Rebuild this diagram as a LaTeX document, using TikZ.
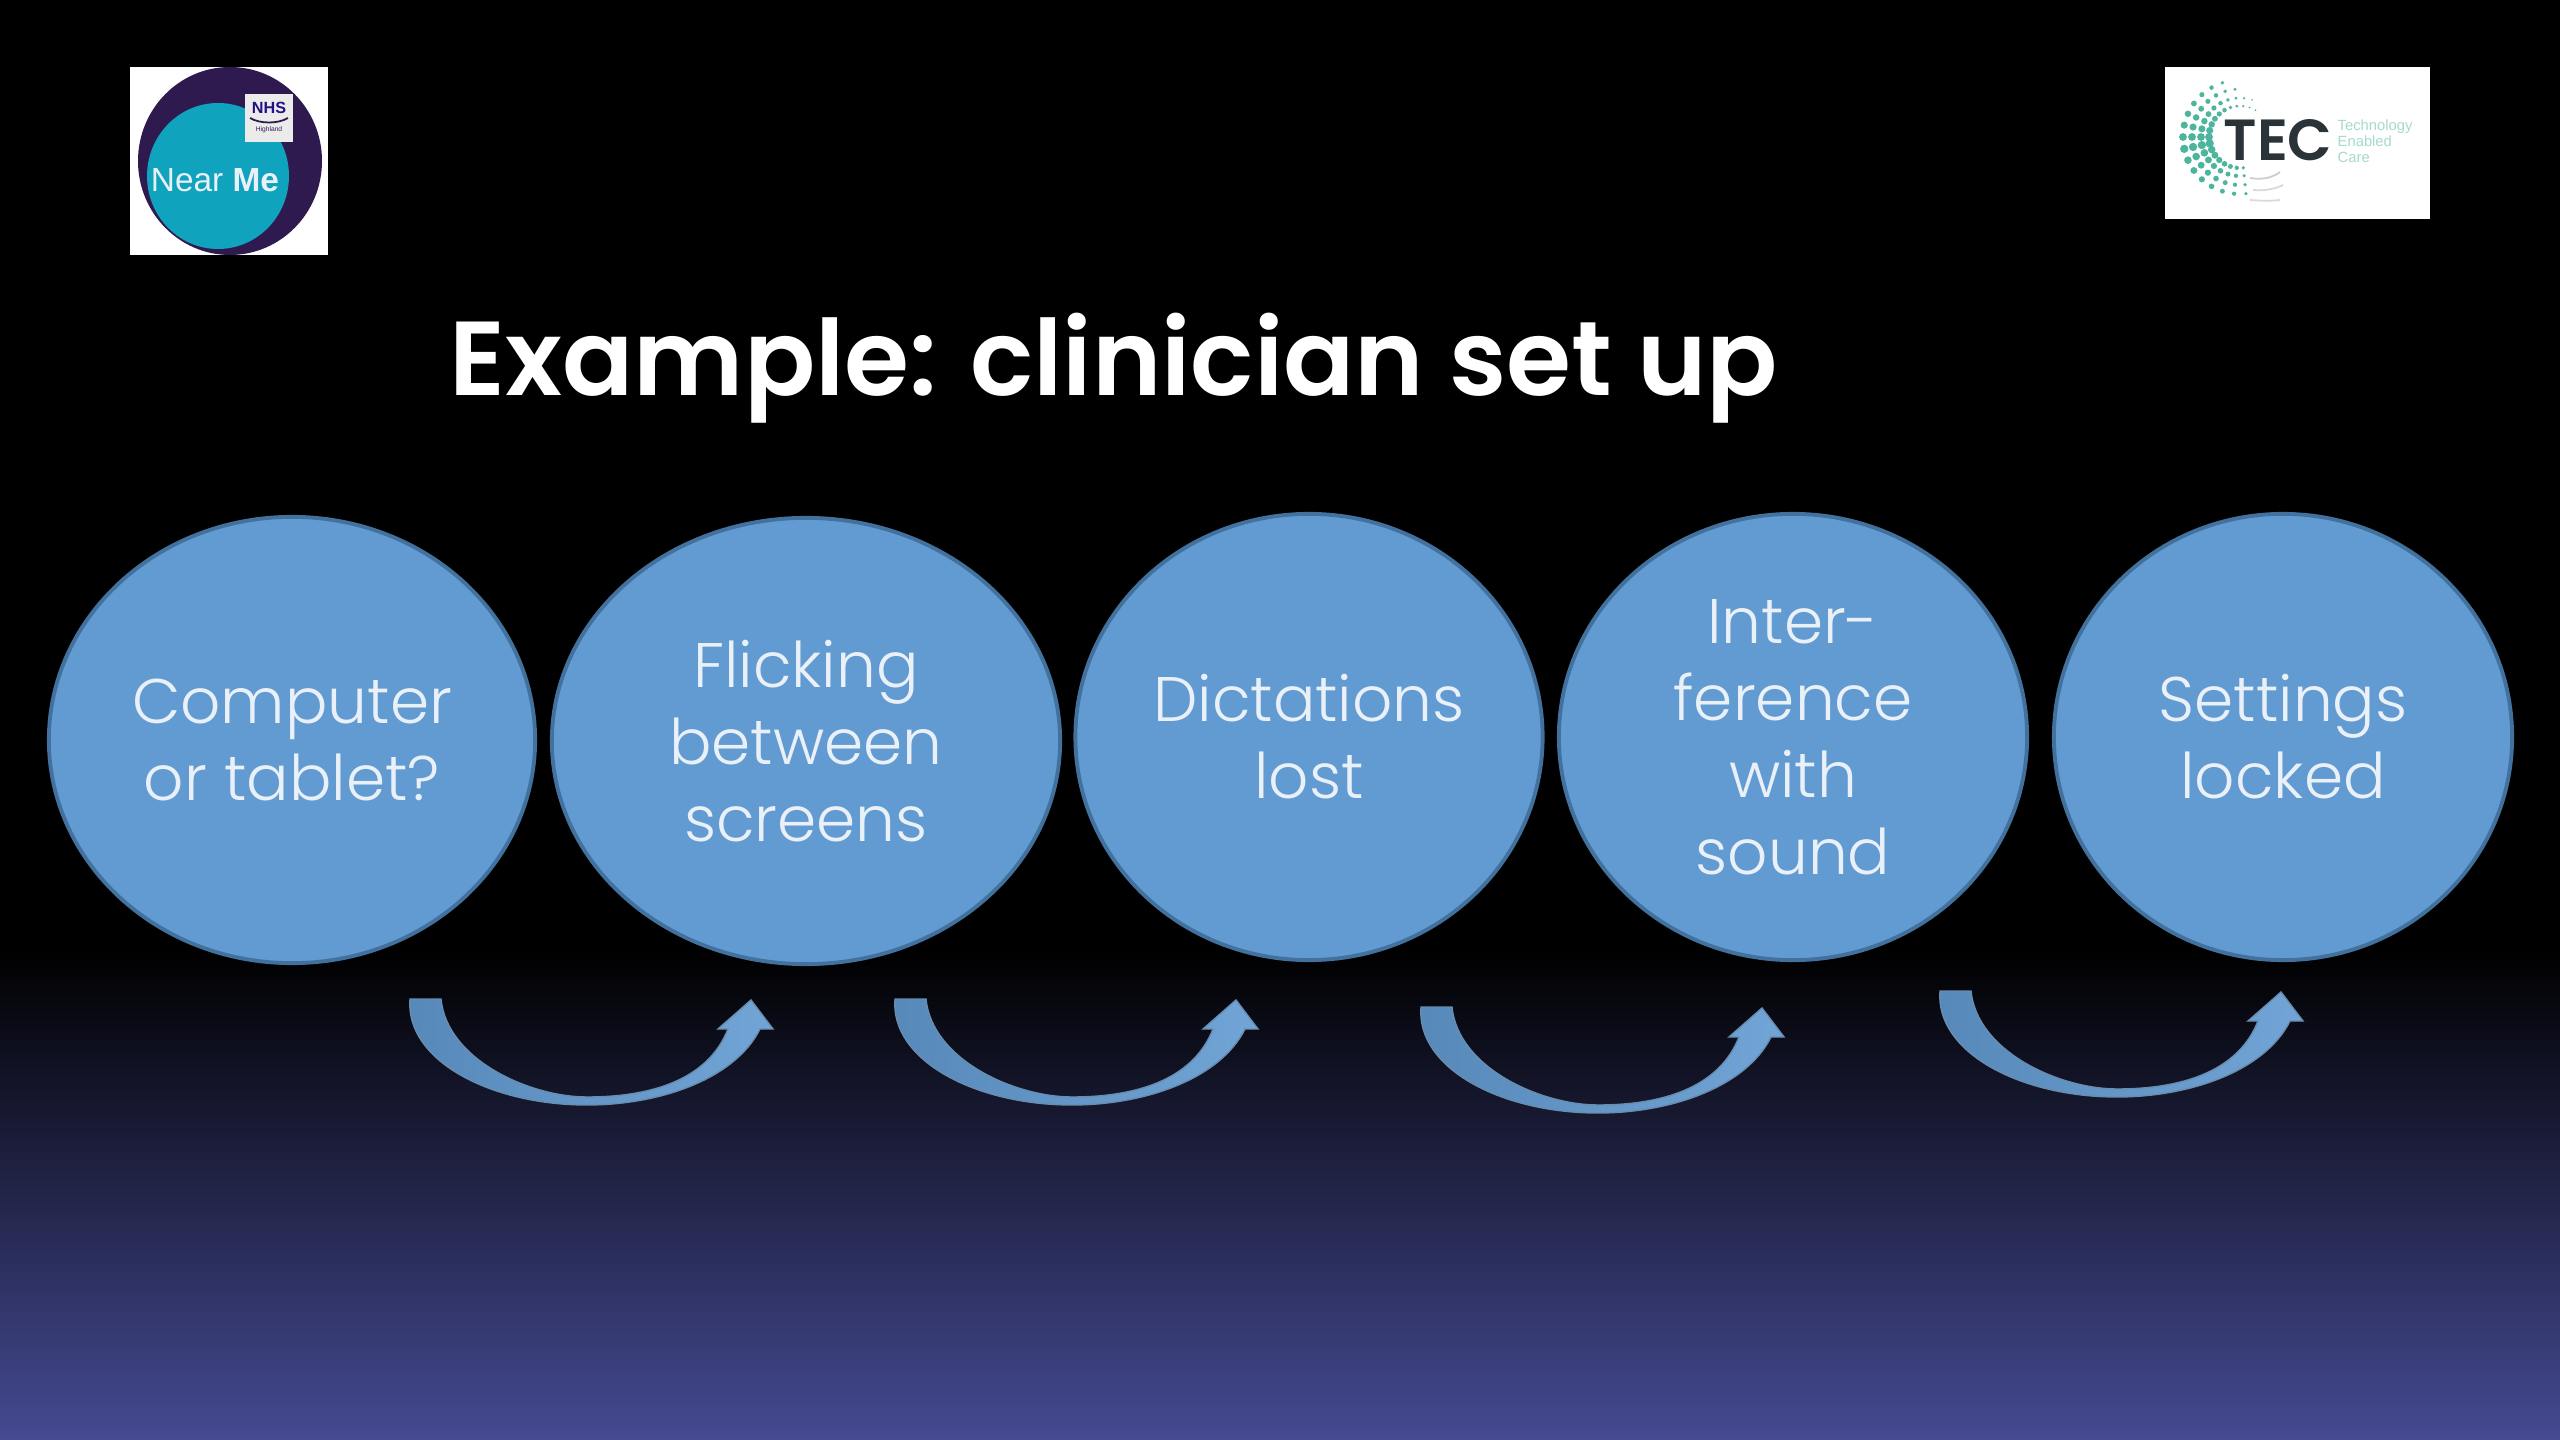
\documentclass[tikz,border=0pt]{standalone}
\usepackage{fontspec}
\usepackage{xcolor}
\usepackage{tikz}
\setmainfont{Poppins}
\newfontfamily\lightfont{Poppins Light}
\newfontfamily\titlefont{Poppins SemiBold}
\newfontfamily\logofont{Liberation Sans}
\usetikzlibrary{shapes.geometric, positioning}
\definecolor{bubble}{HTML}{629BD2}
\definecolor{bubbleline}{HTML}{41719C}
\definecolor{bgblue}{HTML}{454A92}
\definecolor{paletext}{HTML}{EAF0F7}
\definecolor{nhsnavy}{HTML}{2F1A4F}
\definecolor{nearteal}{HTML}{0FA3BD}
\definecolor{tecgreen}{HTML}{4DB59D}
\definecolor{tecdark}{HTML}{2A3438}

\begin{document}
\begin{tikzpicture}[
    x=0.01cm, y=-0.01cm,
    bubblenode/.style={draw=bubbleline, line width=1.1pt, ellipse, fill=bubble, inner sep=0pt,
      minimum height=4.46cm, align=center, text=paletext,
      font=\lightfont\fontsize{17.9}{21.9}\selectfont},
    bendarrow/.pic={
      \shade[draw=bubbleline!80, line width=0.4pt, left color=bubble!88!black, right color=bubble!90!white]
        (0,0) -- (31,0) .. controls (37,61) and (120,98) .. (177,98)
        .. controls (250,98) and (300,76) .. (318,30) -- (308,30) -- (341,1) -- (363,30) -- (350,30)
        .. controls (325,80) and (250,106) .. (177,106)
        .. controls (80,106) and (-5,61) .. (0,0) -- cycle;
    }
]
\useasboundingbox (0,0) rectangle (2560,1440);

% Background
\fill[black] (0,0) rectangle (2560,950);
\shade[top color=black, bottom color=bgblue] (0,950) rectangle (2560,1440);

% Near Me logo
\fill[white] (130,67) rectangle (328,255);
\fill[nhsnavy] (230,161) ellipse (92 and 94);
\fill[nearteal] (218,176) ellipse (71 and 73);
\node[fill=white!92!black, minimum width=0.48cm, minimum height=0.47cm, inner sep=0pt] (nhsbox) at (269,118) {};
\node[font=\logofont\bfseries\fontsize{4.6}{5}\selectfont, text=nhsnavy!70!blue, inner sep=0pt] (nhstext) at (269,108) {NHS};
\node[font=\logofont\fontsize{1.9}{2}\selectfont, text=nhsnavy, inner sep=0pt] (nhsarea) at (269,130) {Highland};
\draw[nhsnavy, line width=0.5pt] (250,118) .. controls (260,124) and (278,124) .. (288,118);
\node[font=\logofont\fontsize{9.5}{10}\selectfont, text=paletext, inner sep=0pt] (nearme) at (215,180) {Near \textbf{Me}};

% TEC logo
\fill[white] (2165,67) rectangle (2430,219);
\begin{scope}[shift={(2240,137)}]
  \foreach \r/\amax in {57/255, 48/275, 39/295, 31/305} {
    \foreach \a in {84,96,...,\amax} {
      \pgfmathsetmacro{\dotsize}{max(0.9, 4.2-abs(\a-170)/36)}
      \fill[tecgreen] (\a:\r) circle (\dotsize);
    }
  }
\end{scope}
\draw[gray!40, line width=0.5pt] (2250,178) .. controls (2262,180) and (2272,178) .. (2280,172);
\draw[gray!30, line width=0.5pt] (2253,190) .. controls (2265,191) and (2275,189) .. (2283,185);
\draw[gray!30, line width=0.5pt] (2250,200) .. controls (2262,201) and (2272,201) .. (2280,200);
\node[font=\titlefont\fontsize{16.5}{18}\selectfont, text=tecdark, inner sep=0pt] (tecname) at (2278,140) {TEC};
\node[font=\logofont\fontsize{4.2}{4.5}\selectfont, text=tecgreen!50, align=left, inner sep=0pt, anchor=west] (tecsub) at (2337,141) {Technology\\Enabled\\Care};

% Title
\node[font=\titlefont\fontsize{29.9}{34}\selectfont, text=white, inner sep=0pt] (title) at (1114,368) {Example: clinician set up};

% Bubbles
\node[bubblenode, minimum width=4.86cm] (computer) at (292,740) {Computer\\or tablet?};
\node[bubblenode, minimum width=5.08cm] (flicking) at (806,741) {Flicking\\between\\screens};
\node[bubblenode, minimum width=4.67cm] (dictations) at (1309,737) {Dictations\\lost};
\node[bubblenode, minimum width=4.68cm] (interference) at (1793,737) {Inter-\\ference\\with\\sound};
\node[bubblenode, minimum width=4.58cm] (settings) at (2283,737) {Settings\\locked};

% Arrows
\pic (arrowa) at (410,999) {bendarrow};
\pic (arrowb) at (895,999) {bendarrow};
\pic (arrowc) at (1421,1007) {bendarrow};
\pic (arrowd) at (1940,991) {bendarrow};

\end{tikzpicture}
\end{document}
